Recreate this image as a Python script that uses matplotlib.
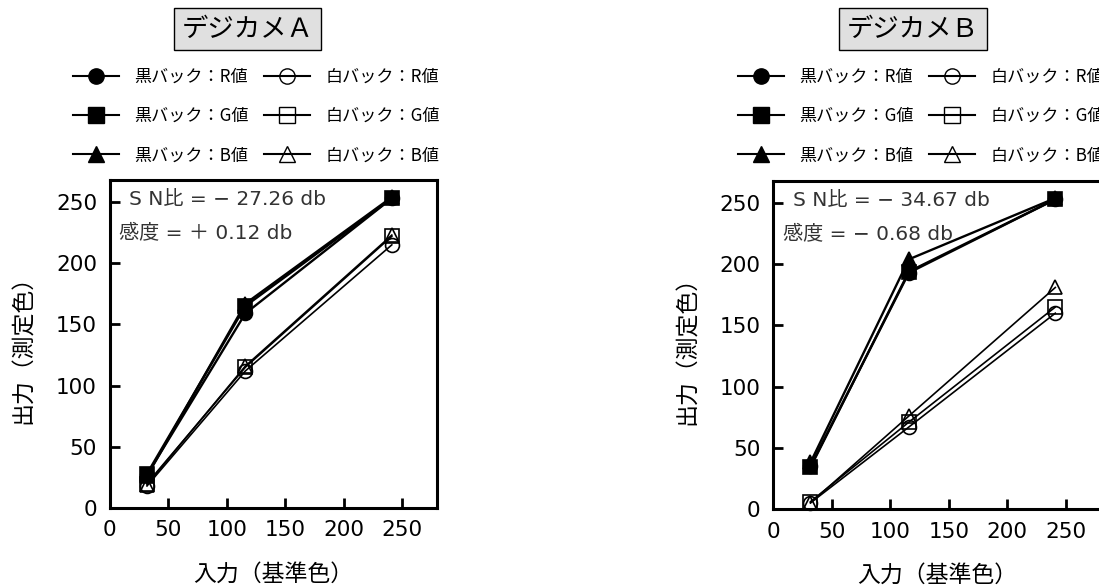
import matplotlib
matplotlib.use("Agg")
import matplotlib.pyplot as plt
from matplotlib.lines import Line2D

plt.rcParams['font.family'] = ['DejaVu Sans', 'Noto Sans CJK JP']
cjk_first = ['Noto Sans CJK JP', 'DejaVu Sans']

# input (reference colour) levels
x_in = [32, 116, 241]

# camera A
a_black_r = [27, 159, 253]
a_black_g = [28, 165, 253]
a_black_b = [26, 167, 254]
a_white_r = [18, 112, 215]
a_white_g = [20, 115, 222]
a_white_b = [19, 116, 223]

# camera B
b_black_r = [35, 193, 253]
b_black_g = [34, 194, 253]
b_black_b = [38, 204, 254]
b_white_r = [5, 67, 160]
b_white_g = [6, 71, 165]
b_white_b = [5, 76, 181]

titles = ["デジカメＡ", "デジカメＢ"]
notes = [["S N比 = − 27.26 db", "感度 = ＋ 0.12 db"],
         ["S N比 = − 34.67 db", "感度 = − 0.68 db"]]
labels = ["黒バック：R値", "黒バック：G値", "黒バック：B値",
          "白バック：R値", "白バック：G値", "白バック：B値"]
markers = ['o', 's', '^', 'o', 's', '^']

W, H = 1099, 588
fig = plt.figure(figsize=(W / 100, H / 100), dpi=100)

panels = [
    dict(left=109.5, bottom=508, title_x=247.5, leg_x=64,
         data=[a_black_r, a_black_g, a_black_b, a_white_r, a_white_g, a_white_b]),
    dict(left=773, bottom=509, title_x=913, leg_x=729,
         data=[b_black_r, b_black_g, b_black_b, b_white_r, b_white_g, b_white_b]),
]

for i, p in enumerate(panels):
    ax = fig.add_axes([p['left'] / W, (H - p['bottom']) / H, 328 / W, 328 / H])
    for j, y in enumerate(p['data']):
        filled = j < 3
        ax.plot(x_in, y, color='black', lw=1.7 if filled else 1.2,
                marker=markers[j], markersize=10,
                markerfacecolor='black' if filled else 'none',
                markeredgecolor='black', markeredgewidth=1.2, clip_on=False)
    ax.set_xlim(0, 280)
    ax.set_ylim(0, 268)
    ax.set_xticks([0, 50, 100, 150, 200, 250])
    ax.set_yticks([0, 50, 100, 150, 200, 250])
    ax.tick_params(direction='in', length=7, width=2, labelsize=15.5, pad=9)
    for s in ax.spines.values():
        s.set_linewidth(2.2)
    ax.set_xlabel("入力（基準色）", fontsize=16.5, labelpad=16, family=cjk_first)
    ax.set_ylabel("出力（測定色）", fontsize=16.5, labelpad=15, family=cjk_first)
    ax.text(0.06, 0.94, notes[i][0], transform=ax.transAxes, fontsize=14.5,
            color='#333333', va='center', ha='left')
    ax.text(0.03, 0.84, notes[i][1], transform=ax.transAxes, fontsize=14.5,
            color='#333333', va='center', ha='left')

    fig.text(p['title_x'] / W, 1 - 29 / H, titles[i], fontsize=19,
             ha='center', va='center', family=cjk_first,
             bbox=dict(boxstyle='square,pad=0.3', facecolor='#e0e0e0',
                       edgecolor='black', linewidth=1))

    handles = [Line2D([], [], color='black', lw=1.5, marker=markers[j], markersize=11,
                      markerfacecolor='black' if j < 3 else 'none',
                      markeredgecolor='black') for j in range(6)]
    fig.legend(handles, labels, ncol=2, loc='upper left',
               bbox_to_anchor=(p['leg_x'] / W, 1 - 59 / H), frameon=False,
               prop=dict(family=cjk_first, size=12.3),
               handlelength=2.7, handletextpad=0.9,
               columnspacing=0.9, labelspacing=1.25, borderpad=0)

fig.savefig("out.png", dpi=100)
